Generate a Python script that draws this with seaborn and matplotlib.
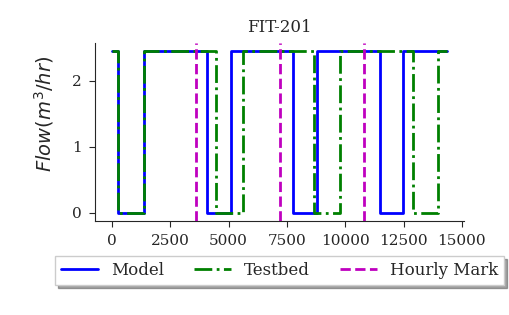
import numpy as np
import pandas as pd
import matplotlib
matplotlib.use('Agg')
import matplotlib.pyplot as plt
import seaborn as sns

# Datos (transiciones de la senal en escalon)
model_t = [0, 280, 1355, 4070, 5110, 7755, 8785, 11470, 12470, 14380]
model_flow = [2.45, 0, 2.45, 0, 2.45, 0, 2.45, 0, 2.45, 2.45]
testbed_t = [0, 280, 1355, 4470, 5600, 8680, 9785, 12900, 13960, 14360]
testbed_flow = [2.45, 0, 2.45, 0, 2.45, 0, 2.45, 0, 2.45, 2.45]
hourly_marks = [3600, 7200, 10800]

sns.set_style('ticks')
plt.rcParams['font.family'] = ['DejaVu Serif']

fig = plt.figure(figsize=(5.09, 3.15), dpi=100)
ax = fig.add_axes([0.187, 0.299, 0.725, 0.564])

df_model = pd.DataFrame({'t': model_t, 'flow': model_flow})
df_test = pd.DataFrame({'t': testbed_t, 'flow': testbed_flow})

sns.lineplot(data=df_model, x='t', y='flow', ax=ax, color='b', lw=2,
             drawstyle='steps-post', label='Model', sort=False)
sns.lineplot(data=df_test, x='t', y='flow', ax=ax, color='g', lw=2,
             linestyle='-.', drawstyle='steps-post', label='Testbed', sort=False)
for i, h in enumerate(hourly_marks):
    ax.axvline(h, color='m', lw=2, linestyle='--',
               label='Hourly Mark' if i == 0 else None)

ax.set_xticks([0, 2500, 5000, 7500, 10000, 12500, 15000])
ax.set_yticks([0, 1, 2])
ax.tick_params(labelsize=11, length=4.5, pad=5)
ax.set_xlabel('')
ax.set_ylabel('$Flow(m^3/hr)$', fontsize=14)
ax.yaxis.set_label_coords(-0.105, 0.6)
ax.set_title('FIT-201', fontsize=12, pad=8)
sns.despine(ax=ax)

ax.legend(loc='upper center', bbox_to_anchor=(0.5, -0.2), ncol=3,
          shadow=True, fancybox=False, fontsize=12, handlelength=2.2,
          columnspacing=1.8, borderpad=0.35, borderaxespad=0,
          edgecolor='0.8')

fig.savefig('out.png', dpi=100)
